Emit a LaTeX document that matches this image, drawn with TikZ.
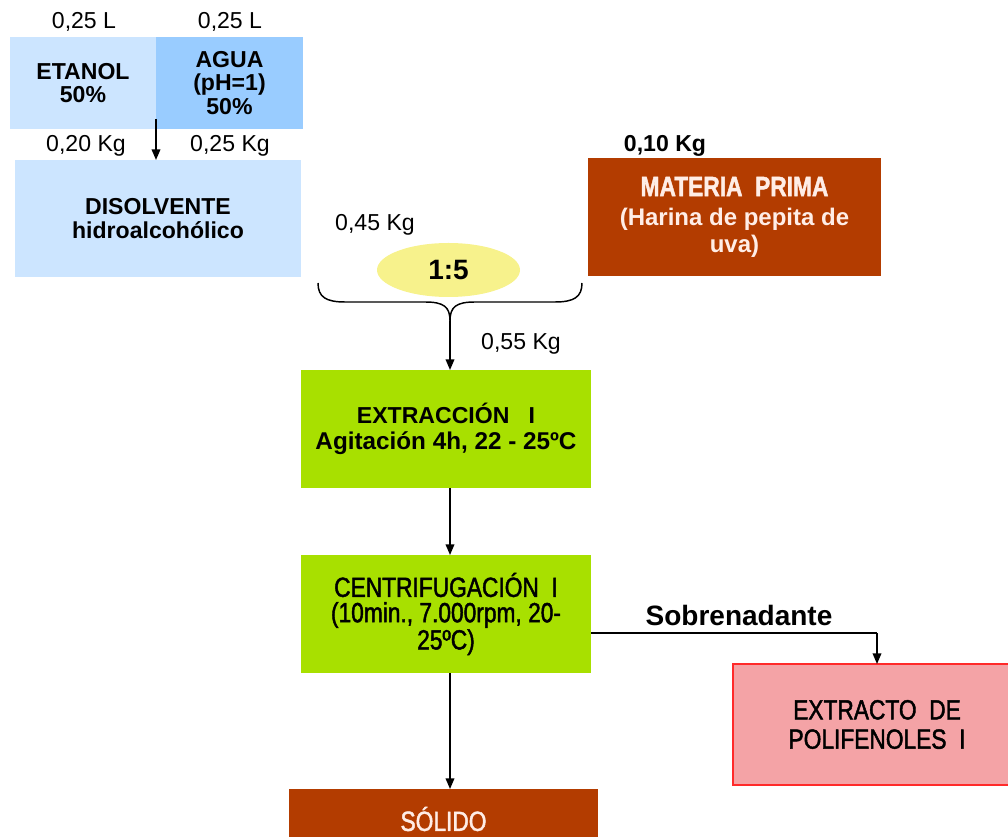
\documentclass[tikz,border=0pt]{standalone}
\usepackage{fontspec}
\setmainfont{Liberation Sans}
\newfontfamily\narrowfont[FakeStretch=0.82,FakeBold=1.6]{Liberation Sans}
\usetikzlibrary{shapes.geometric,arrows.meta}
\definecolor{lblue}{HTML}{CCE5FF}
\definecolor{mblue}{HTML}{99CCFF}
\definecolor{rust}{HTML}{B33C00}
\definecolor{lime}{HTML}{A8E000}
\definecolor{pinkf}{HTML}{F4A3A6}
\definecolor{redb}{HTML}{FF2A2A}
\definecolor{yell}{HTML}{F7F28C}
\definecolor{paletxt}{HTML}{FFEDE6}
\tikzset{
  box/.style={draw=none, inner sep=0pt, outer sep=0pt, align=center},
  reg/.style={font=\fontsize{17.3}{17.5}\selectfont},
  bld/.style={font=\fontsize{17.3}{17.5}\selectfont\bfseries},
  nar/.style={font=\narrowfont\fontsize{20.8}{19}\selectfont},
  lbl/.style={inner sep=0pt, align=center},
  arr/.style={line width=1.1pt, -{Triangle[width=6.5pt,length=8pt]}},
  ln/.style={line width=1.1pt}
}
\begin{document}
\begin{tikzpicture}[x=0.75pt,y=-0.75pt]
\useasboundingbox (0,0) rectangle (1008,837);
% top boxes
\node[box, bld, fill=lblue, minimum width=146*0.75pt, minimum height=92*0.75pt] (etanol) at (83,83) {ETANOL\\50\%};
\node[box, bld, fill=mblue, minimum width=147*0.75pt, minimum height=92*0.75pt] (agua) at (229.5,83) {AGUA\\(pH=1)\\50\%};
\node[lbl, reg] (l1) at (84,22) {0,25 L};
\node[lbl, reg] (l2) at (230,22) {0,25 L};
\node[lbl, reg] (l3) at (86,146) {0,20 Kg};
\node[lbl, reg] (l4) at (230,146) {0,25 Kg};
\node[box, bld, fill=lblue, minimum width=286*0.75pt, minimum height=117*0.75pt] (disolv) at (158,218.5) {DISOLVENTE\\[1pt]hidroalcohólico};
\coordinate (j1) at (156,119);
\draw[arr] (j1) -- (j1 |- disolv.north);
% materia prima
\node[lbl, bld] (l5) at (665,146) {0,10 Kg};
\node[box, fill=rust, text=paletxt, minimum width=293*0.75pt, minimum height=118*0.75pt,
  font=\fontsize{18}{20}\selectfont\bfseries] (mp) at (734.5,217)
  {{\narrowfont\fontsize{20.8}{20}\selectfont MATERIA\ \ PRIMA}\\[2pt]
   (Harina de pepita de\\uva)};
% ratio and brace
\node[lbl, reg] (l6) at (375,225) {0,45 Kg};
\node[ellipse, fill=yell, inner sep=0pt, minimum width=143*0.75pt, minimum height=54*0.75pt,
  font=\fontsize{21}{21}\selectfont\bfseries] (ratio) at (448.5,270) {1:5};
\coordinate (bl) at (318,283);
\coordinate (br) at (582,283);
\coordinate (bt) at (450,321);
\draw[ln] (bl) .. controls (318,297) and (326,302) .. (345,302) -- (425,302)
  .. controls (444,302) and (450,307) .. (bt)
  .. controls (450,307) and (456,302) .. (475,302) -- (555,302)
  .. controls (574,302) and (582,297) .. (br);
\node[lbl, reg] (l7) at (521,344) {0,55 Kg};
% process
\node[box, bld, fill=lime, minimum width=290*0.75pt, minimum height=118*0.75pt] (extr) at (446,429)
  {EXTRACCIÓN\ \ \ I\\[2pt]\fontsize{18.2}{18}\selectfont Agitación 4h, 22 - 25ºC};
\draw[arr] (bt) -- (bt |- extr.north);
\node[box, nar, fill=lime, minimum width=290*0.75pt, minimum height=118*0.75pt] (centr) at (446,614)
  {CENTRIFUGACIÓN\ \ I\\(10min., 7.000rpm, 20-\\25ºC)};
\draw[arr] (bt |- extr.south) -- (bt |- centr.north);
\node[box, nar, fill=pinkf, draw=redb, line width=1pt, minimum width=288*0.75pt, minimum height=121*0.75pt] (extracto) at (877,724.5)
  {EXTRACTO\ \ DE\\[3pt]POLIFENOLES\ \ I};
\coordinate (c1) at (877,633);
\draw[ln] (centr.east |- c1) -- (c1);
\draw[arr] (c1) -- (c1 |- extracto.north);
\node[lbl, font=\fontsize{21}{21}\selectfont\bfseries] (sob) at (739,615) {Sobrenadante};
\node[box, nar, fill=rust, text=paletxt, minimum width=309*0.75pt, minimum height=60*0.75pt] (solido) at (443.5,819) {SÓLIDO};
\draw[arr] (bt |- centr.south) -- (bt |- solido.north);
\end{tikzpicture}
\end{document}
